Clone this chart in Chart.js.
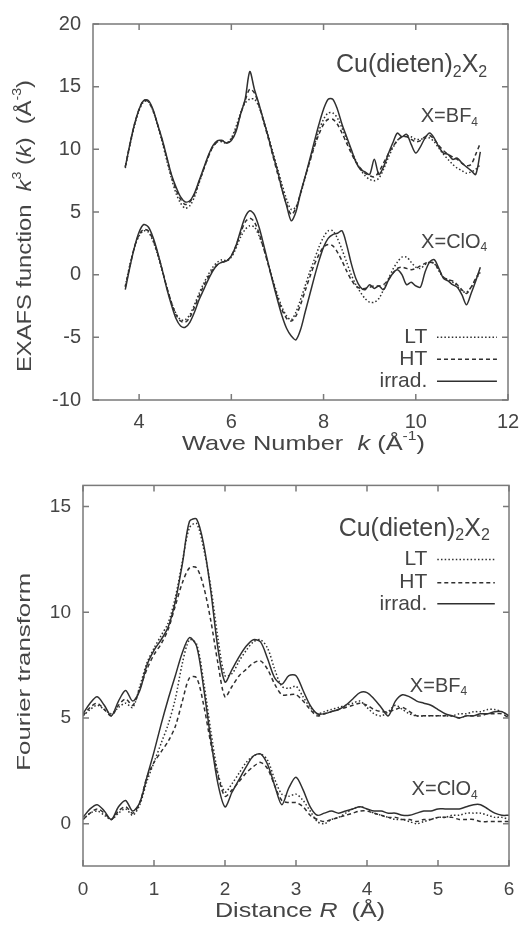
<!DOCTYPE html>
<html>
<head>
<meta charset="utf-8">
<script src="https://cdn.jsdelivr.net/npm/chart.js@4.4.0/dist/chart.umd.min.js"></script>
<style>
html, body { margin: 0; padding: 0; background: #fff; }
#top { position: absolute; left: 0; top: 0; width: 531px; height: 462px; }
#bot { position: absolute; left: 0; top: 462px; width: 531px; height: 467px; }
</style>
</head>
<body>
<div id="top"><canvas id="exafs"></canvas></div>
<div id="bot"><canvas id="fourier"></canvas></div>
<script>
// Wave number grid (Å^-1)
const waveK = [3.7, 3.8, 3.9, 4.0, 4.1, 4.2, 4.3, 4.4, 4.5, 4.6, 4.7, 4.8, 4.9, 5.0, 5.1, 5.2, 5.3, 5.4, 5.5, 5.6,
  5.7, 5.8, 5.9, 6.0, 6.1, 6.2, 6.3, 6.4, 6.5, 6.6, 6.7, 6.8, 6.9, 7.0, 7.1, 7.2, 7.3, 7.4, 7.5, 7.6,
  7.7, 7.8, 7.9, 8.0, 8.1, 8.2, 8.3, 8.4, 8.5, 8.6, 8.7, 8.8, 8.9, 9.0, 9.1, 9.2, 9.3, 9.4, 9.5, 9.6,
  9.7, 9.8, 9.9, 10.0, 10.1, 10.2, 10.3, 10.4, 10.5, 10.6, 10.7, 10.8, 10.9, 11.0, 11.1, 11.2, 11.3, 11.4];

// X = BF4 (offset +10 in the figure)
const bf4LT = [8.5, 10.3, 11.9, 13.1, 13.8, 13.8, 13.1, 11.9, 10.6, 9.1, 7.7, 6.5, 5.7, 5.3, 5.5, 6.2, 7.3, 8.4, 9.4, 10.2,
  10.6, 10.6, 10.5, 10.9, 11.8, 12.9, 13.7, 14.0, 14.0, 13.4, 12.3, 11.1, 9.8, 8.5, 7.2, 6.0, 5.2, 5.4, 6.4, 7.7,
  9.0, 10.3, 11.5, 12.4, 12.9, 12.9, 12.5, 11.7, 10.8, 9.9, 9.1, 8.4, 7.9, 7.6, 7.5, 7.7, 8.4, 9.3, 10.1, 10.7,
  11.0, 11.1, 11.0, 10.8, 10.8, 10.9, 10.9, 10.6, 10.1, 9.6, 9.2, 8.8, 8.5, 8.3, 8.1, 8.2, 8.4, 8.8];
const bf4HT = [8.6, 10.4, 12.0, 13.2, 13.9, 13.8, 13.1, 12.0, 10.7, 9.3, 7.9, 6.8, 6.0, 5.6, 5.8, 6.4, 7.4, 8.4, 9.4, 10.2,
  10.6, 10.7, 10.5, 10.8, 11.6, 12.8, 13.9, 14.8, 14.5, 13.5, 12.2, 10.9, 9.5, 8.1, 6.8, 5.6, 4.8, 5.3, 6.5, 7.8,
  9.0, 10.2, 11.2, 12.0, 12.4, 12.4, 12.0, 11.3, 10.5, 9.7, 9.0, 8.5, 8.1, 7.9, 7.8, 8.2, 8.9, 9.6, 10.2, 10.7,
  11.0, 11.0, 10.8, 10.6, 10.7, 11.0, 11.1, 10.8, 10.3, 9.9, 9.6, 9.4, 9.2, 8.9, 8.7, 8.8, 9.6, 10.5];
const bf4Irrad = [8.6, 10.4, 12.0, 13.2, 13.9, 13.9, 13.2, 12.0, 10.8, 9.4, 8.0, 7.0, 6.2, 5.8, 5.9, 6.5, 7.5, 8.5, 9.5, 10.3,
  10.7, 10.7, 10.5, 10.7, 11.4, 12.8, 14.0, 16.2, 14.8, 13.6, 12.3, 11.0, 9.6, 8.3, 6.8, 5.5, 4.3, 5.0, 6.5, 7.8,
  9.2, 10.6, 12.0, 13.2, 14.0, 14.0, 13.2, 12.0, 11.0, 10.0, 9.0, 8.4, 8.2, 8.0, 9.2, 8.0, 8.6, 9.6, 10.5, 11.3,
  11.0, 11.2, 10.4, 9.7, 10.2, 10.9, 11.3, 10.9, 10.2, 9.7, 9.6, 9.2, 9.3, 8.9, 8.6, 8.3, 8.0, 9.8];

// X = ClO4
const clo4LT = [-0.9, 0.8, 2.2, 3.1, 3.5, 3.4, 2.7, 1.6, 0.3, -1.0, -2.2, -3.1, -3.6, -3.6, -3.2, -2.4, -1.5, -0.7, 0.0, 0.6,
  1.0, 1.2, 1.1, 1.4, 2.1, 3.0, 3.6, 3.9, 3.8, 3.1, 2.1, 0.9, -0.4, -1.6, -2.6, -3.3, -3.6, -3.0, -2.0, -0.9,
  0.2, 1.2, 2.2, 3.0, 3.5, 3.5, 2.9, 2.0, 1.0, 0.0, -0.8, -1.4, -1.9, -2.2, -2.2, -1.9, -1.2, -0.4, 0.4, 1.0,
  1.4, 1.4, 1.0, 0.6, 0.5, 0.8, 1.0, 0.9, 0.3, -0.2, -0.4, -0.6, -0.9, -1.3, -1.4, -1.0, -0.4, 0.2];
const clo4HT = [-1.0, 0.7, 2.2, 3.2, 3.6, 3.5, 2.8, 1.7, 0.4, -1.0, -2.2, -3.2, -3.7, -3.8, -3.4, -2.6, -1.7, -0.9, -0.2, 0.4,
  0.8, 1.0, 1.1, 1.5, 2.3, 3.3, 4.2, 4.5, 4.2, 3.3, 2.1, 0.8, -0.5, -1.8, -2.8, -3.5, -3.7, -3.3, -2.4, -1.3,
  -0.2, 0.8, 1.6, 2.2, 2.4, 2.3, 1.8, 1.1, 0.3, -0.4, -0.9, -1.1, -1.1, -1.0, -0.9, -0.9, -0.8, -0.4, 0.1, 0.5,
  0.6, 0.5, 0.4, 0.5, 0.7, 0.9, 1.0, 0.9, 0.4, -0.2, -0.4, -0.5, -0.8, -1.2, -1.5, -1.0, -0.3, 0.3];
const clo4Irrad = [-1.2, 0.6, 2.2, 3.4, 4.0, 3.8, 3.0, 1.8, 0.4, -1.1, -2.4, -3.5, -4.1, -4.2, -3.8, -3.0, -2.0, -1.2, -0.4, 0.3,
  0.8, 1.0, 1.1, 1.5, 2.3, 3.5, 4.6, 5.1, 4.8, 3.8, 2.4, 0.9, -0.6, -2.0, -3.3, -4.3, -4.9, -5.2, -4.4, -3.0,
  -1.6, -0.2, 1.1, 2.2, 2.9, 3.2, 3.3, 3.5, 2.4, 0.9, -0.3, -1.0, -1.2, -0.8, -1.1, -0.9, -1.2, -0.5, 0.1, 0.4,
  0.0, -0.8, -0.6, -0.9, -1.0, 0.2, 1.0, 1.2, 0.5, -0.3, -0.5, -0.8, -1.0, -1.6, -2.4, -1.5, -0.5, 0.6];

// Distance grid (Å)
const distR = [0.0, 0.1, 0.2, 0.3, 0.4, 0.5, 0.6, 0.7, 0.8, 0.9, 1.0, 1.1, 1.2, 1.3, 1.4, 1.5, 1.6, 1.7, 1.8, 1.9,
  2.0, 2.1, 2.2, 2.3, 2.4, 2.5, 2.6, 2.7, 2.8, 2.9, 3.0, 3.1, 3.2, 3.3, 3.4, 3.5, 3.6, 3.7, 3.8, 3.9,
  4.0, 4.1, 4.2, 4.3, 4.4, 4.5, 4.6, 4.7, 4.8, 4.9, 5.0, 5.1, 5.2, 5.3, 5.4, 5.5, 5.6, 5.7, 5.8, 5.9, 6.0];

const ftBf4LT = [5.1, 5.4, 5.6, 5.4, 5.2, 5.5, 5.7, 5.5, 6.5, 7.6, 8.3, 8.9, 9.5, 10.7, 12.4, 14.0, 14.2, 13.0, 11.2, 8.8,
  7.0, 7.1, 7.7, 8.2, 8.6, 8.7, 8.3, 7.3, 6.5, 6.4, 6.5, 6.0, 5.5, 5.2, 5.3, 5.4, 5.5, 5.6, 5.7, 5.8,
  5.5, 5.2, 5.1, 5.3, 5.6, 5.4, 5.2, 5.1, 5.1, 5.1, 5.1, 5.1, 5.1, 5.2, 5.2, 5.3, 5.3, 5.4, 5.4, 5.3, 5.1];
const ftBf4HT = [5.1, 5.5, 5.7, 5.4, 5.1, 5.6, 5.9, 5.6, 6.4, 7.3, 8.0, 8.5, 9.2, 10.3, 11.4, 12.1, 12.1, 11.2, 9.6, 7.6,
  6.0, 6.5, 7.0, 7.3, 7.6, 7.7, 7.3, 6.6, 6.1, 6.1, 6.1, 5.8, 5.4, 5.1, 5.2, 5.3, 5.4, 5.5, 5.6, 5.7,
  5.6, 5.4, 5.3, 5.3, 5.4, 5.5, 5.3, 5.1, 5.1, 5.1, 5.1, 5.1, 5.1, 5.0, 5.1, 5.1, 5.1, 5.2, 5.2, 5.2, 5.0];
const ftBf4Irrad = [5.2, 5.7, 6.0, 5.6, 5.1, 5.8, 6.3, 5.8, 6.3, 7.5, 8.2, 8.7, 9.3, 10.5, 12.3, 14.3, 14.4, 13.2, 11.0, 8.3,
  6.7, 7.3, 7.9, 8.4, 8.7, 8.6, 7.8, 6.9, 6.6, 7.0, 7.0, 6.3, 5.6, 5.2, 5.2, 5.3, 5.4, 5.6, 5.9, 6.2,
  6.2, 5.9, 5.5, 5.1, 5.8, 6.1, 6.0, 5.8, 5.7, 5.6, 5.4, 5.2, 5.1, 5.0, 5.1, 5.1, 5.2, 5.2, 5.3, 5.3, 5.1];

const ftClo4LT = [0.2, 0.5, 0.6, 0.4, 0.2, 0.5, 0.7, 0.4, 0.9, 2.0, 2.9, 3.8, 4.7, 5.9, 7.6, 8.7, 8.5, 6.7, 4.4, 2.4,
  1.5, 1.9, 2.4, 2.9, 3.2, 3.3, 3.0, 2.1, 1.4, 1.3, 1.4, 1.1, 0.6, 0.1, 0.0, 0.2, 0.3, 0.5, 0.7, 0.8,
  0.7, 0.5, 0.4, 0.3, 0.2, 0.2, 0.1, 0.0, 0.1, 0.2, 0.3, 0.3, 0.4, 0.4, 0.5, 0.5, 0.5, 0.4, 0.3, 0.3, 0.2];
const ftClo4HT = [0.2, 0.5, 0.7, 0.5, 0.2, 0.6, 0.8, 0.5, 1.0, 2.2, 2.9, 3.4, 3.9, 4.6, 5.8, 6.9, 6.9, 5.6, 3.8, 2.3,
  1.3, 1.6, 2.0, 2.4, 2.7, 2.9, 2.6, 1.8, 1.1, 1.0, 1.0, 0.8, 0.4, 0.2, 0.1, 0.2, 0.3, 0.4, 0.5, 0.6,
  0.6, 0.5, 0.4, 0.3, 0.3, 0.2, 0.2, 0.1, 0.2, 0.2, 0.3, 0.3, 0.3, 0.2, 0.2, 0.2, 0.1, 0.1, 0.1, 0.1, 0.1];
const ftClo4Irrad = [0.3, 0.7, 0.9, 0.6, 0.2, 0.8, 1.1, 0.6, 1.0, 2.2, 3.4, 4.7, 5.9, 7.0, 8.1, 8.8, 8.4, 6.4, 4.0, 1.9,
  0.8, 1.5, 2.1, 2.7, 3.2, 3.3, 2.8, 1.8, 0.9, 1.7, 2.2, 1.6, 0.8, 0.4, 0.5, 0.6, 0.5, 0.6, 0.7, 0.8,
  0.7, 0.6, 0.6, 0.5, 0.5, 0.4, 0.4, 0.5, 0.6, 0.6, 0.7, 0.7, 0.7, 0.7, 0.8, 0.9, 0.9, 0.7, 0.5, 0.4, 0.4];

// Tick labels
const kTicks = [4, 6, 8, 10, 12];
const exafsTicks = [-10, -5, 0, 5, 10, 15, 20];
const rTicks = [0, 1, 2, 3, 4, 5, 6];
const ftTicks = [0, 5, 10, 15];

// Legend / labels (n = normal, i = italique, sub / sup = indice / exposant)
const seriesNames = ['LT', 'HT', 'irrad.'];
const compound = [['Cu(dieten)', 'n'], ['2', 'sub'], ['X', 'n'], ['2', 'sub']];
const anionBF4 = [['X=BF', 'n'], ['4', 'sub']];
const anionClO4 = [['X=ClO', 'n'], ['4', 'sub']];
const exafsXTitle = [['Wave Number  ', 'n'], ['k', 'i'], [' (Å', 'n'], ['-1', 'sup'], [')', 'n']];
const exafsYTitle = [['EXAFS function  ', 'n'], ['k', 'i'], ['3', 'sup'], [' (', 'n'], ['k', 'i'], [')  (Å', 'n'], ['-3', 'sup'], [')', 'n']];
const ftXTitle = [['Distance ', 'n'], ['R', 'i'], ['  (Å)', 'n']];
const ftYTitle = [['Fourier transform', 'n']];

const FAMILY = '"Liberation Sans", Arial, Helvetica, sans-serif';
const INK = '#303030';
const TEXT = '#454545';
const dashes = [[1.5, 2.2], [4, 3], []];

function line(xs, ys, idx) {
    return {
        label: seriesNames[idx],
        data: xs.map((x, i) => ({ x: x, y: ys[i] })),
        borderColor: INK,
        borderWidth: 1.5,
        borderDash: dashes[idx],
        pointRadius: 0,
        tension: 0.3,
        fill: false
    };
}

function partFont(style, size) {
    const s = (style === 'sub' || style === 'sup') ? Math.round(size * 0.62) : size;
    return (style === 'i' ? 'italic ' : '') + s + 'px ' + FAMILY;
}
function partShift(style, size) {
    if (style === 'sub') return size * 0.28;
    if (style === 'sup') return -size * 0.36;
    return 0;
}
function richWidth(ctx, parts, size) {
    let w = 0;
    parts.forEach(([t, st]) => { ctx.font = partFont(st, size); w += ctx.measureText(t).width; });
    return w;
}
// texte riche, commence à x (ligne médiane yMid)
function drawRich(ctx, parts, x, yMid, size) {
    parts.forEach(([t, st]) => {
        ctx.font = partFont(st, size);
        ctx.fillText(t, x, yMid + partShift(st, size));
        x += ctx.measureText(t).width;
    });
}

// Cadre + graduations intérieures (style gnuplot) + annotations + titres d'axes
const decorPlugin = {
    id: 'decor',
    afterDatasetsDraw(chart, args, opts) {
        const { ctx, chartArea: a, scales: { x, y } } = chart;
        ctx.save();
        ctx.strokeStyle = '#7a7a7a';
        ctx.lineWidth = 1.5;
        ctx.setLineDash([]);
        ctx.strokeRect(a.left, a.top, a.right - a.left, a.bottom - a.top);
        ctx.beginPath();
        x.ticks.forEach(t => {
            const px = x.getPixelForValue(t.value);
            ctx.moveTo(px, a.bottom); ctx.lineTo(px, a.bottom - 6);
            ctx.moveTo(px, a.top); ctx.lineTo(px, a.top + 6);
        });
        y.ticks.forEach(t => {
            const py = y.getPixelForValue(t.value);
            ctx.moveTo(a.left, py); ctx.lineTo(a.left + 6, py);
            ctx.moveTo(a.right, py); ctx.lineTo(a.right - 6, py);
        });
        ctx.stroke();

        ctx.fillStyle = TEXT;
        ctx.textBaseline = 'middle';
        ctx.textAlign = 'left';
        opts.notes.forEach(n => {
            const w = richWidth(ctx, n.parts, n.size);
            drawRich(ctx, n.parts, x.getPixelForValue(n.x) - w, y.getPixelForValue(n.y), n.size);
        });

        // titres d'axes (étirés comme dans la figure d'origine)
        const xt = opts.xTitle;
        const xw = richWidth(ctx, xt.parts, xt.size);
        ctx.save();
        ctx.translate((a.left + a.right) / 2 + xt.shift, a.bottom + xt.offset);
        ctx.scale(xt.len / xw, 1);
        drawRich(ctx, xt.parts, -xw / 2, 0, xt.size);
        ctx.restore();

        const yt = opts.yTitle;
        const yw = richWidth(ctx, yt.parts, yt.size);
        ctx.save();
        ctx.translate(a.left - yt.offset, (a.top + a.bottom) / 2 + yt.shift);
        ctx.rotate(-Math.PI / 2);
        ctx.scale(yt.len / yw, 1);
        drawRich(ctx, yt.parts, -yw / 2, 0, yt.size);
        ctx.restore();

        // légende
        const lg = opts.legend;
        const tx = x.getPixelForValue(lg.x);
        const x0 = x.getPixelForValue(lg.x0);
        const x1 = x.getPixelForValue(lg.x1);
        seriesNames.forEach((name, i) => {
            const py = y.getPixelForValue(lg.rows[i]);
            ctx.font = lg.size + 'px ' + FAMILY;
            ctx.textAlign = 'right';
            ctx.fillStyle = TEXT;
            ctx.fillText(name, tx, py);
            ctx.strokeStyle = INK;
            ctx.lineWidth = 1.5;
            ctx.setLineDash(dashes[i]);
            ctx.beginPath();
            ctx.moveTo(x0, py); ctx.lineTo(x1, py);
            ctx.stroke();
        });
        ctx.restore();
    }
};

function axis(min, max, ticks, fit, tickPad, tickSize) {
    return {
        type: 'linear',
        min: min,
        max: max,
        afterBuildTicks: s => { s.ticks = ticks.map(v => ({ value: v })); },
        afterFit: fit,
        grid: { display: false, drawTicks: false },
        border: { display: false },
        ticks: { padding: tickPad, color: TEXT, font: { size: tickSize, family: FAMILY } },
        title: { display: false }
    };
}

const baseOptions = {
    responsive: true,
    maintainAspectRatio: false,
    animation: false,
    events: []
};

new Chart(document.getElementById('exafs').getContext('2d'), {
    type: 'line',
    data: {
        datasets: [
            line(waveK, bf4LT, 0), line(waveK, bf4HT, 1), line(waveK, bf4Irrad, 2),
            line(waveK, clo4LT, 0), line(waveK, clo4HT, 1), line(waveK, clo4Irrad, 2)
        ]
    },
    options: Object.assign({}, baseOptions, {
        layout: { padding: { left: 0, right: 23, top: 23, bottom: 0 } },
        plugins: {
            legend: { display: false },
            tooltip: { enabled: false },
            decor: {
                notes: [
                    { parts: compound, x: 11.55, y: 16.7, size: 25 },
                    { parts: anionBF4, x: 11.35, y: 12.6, size: 20 },
                    { parts: anionClO4, x: 11.55, y: 2.6, size: 20 }
                ],
                legend: { x: 10.25, x0: 10.46, x1: 11.76, rows: [-5.0, -6.75, -8.5], size: 21 },
                xTitle: { parts: exafsXTitle, size: 21, len: 243, offset: 44, shift: 3 },
                yTitle: { parts: exafsYTitle, size: 20, len: 292, offset: 68, shift: 14 }
            }
        },
        scales: {
            x: axis(3, 12, kTicks, s => { s.height = 62; }, 10, 20),
            y: axis(-10, 20, exafsTicks, s => { s.width = 93; }, 12, 20)
        }
    }),
    plugins: [decorPlugin]
});

new Chart(document.getElementById('fourier').getContext('2d'), {
    type: 'line',
    data: {
        datasets: [
            line(distR, ftBf4LT, 0), line(distR, ftBf4HT, 1), line(distR, ftBf4Irrad, 2),
            line(distR, ftClo4LT, 0), line(distR, ftClo4HT, 1), line(distR, ftClo4Irrad, 2)
        ]
    },
    options: Object.assign({}, baseOptions, {
        layout: { padding: { left: 0, right: 22, top: 23, bottom: 0 } },
        plugins: {
            legend: { display: false },
            tooltip: { enabled: false },
            decor: {
                notes: [
                    { parts: compound, x: 5.73, y: 13.95, size: 25 },
                    { parts: anionBF4, x: 5.41, y: 6.5, size: 20 },
                    { parts: anionClO4, x: 5.56, y: 1.6, size: 20 }
                ],
                legend: { x: 4.85, x0: 4.99, x1: 5.8, rows: [12.5, 11.4, 10.4], size: 21 },
                xTitle: { parts: ftXTitle, size: 21, len: 170, offset: 45, shift: 4 },
                yTitle: { parts: ftYTitle, size: 19, len: 198, offset: 58, shift: -4 }
            }
        },
        scales: {
            x: axis(0, 6, rTicks, s => { s.height = 63; }, 12, 19),
            y: axis(-2, 16, ftTicks, s => { s.width = 83; }, 12, 19)
        }
    }),
    plugins: [decorPlugin]
});
</script>
</body>
</html>
